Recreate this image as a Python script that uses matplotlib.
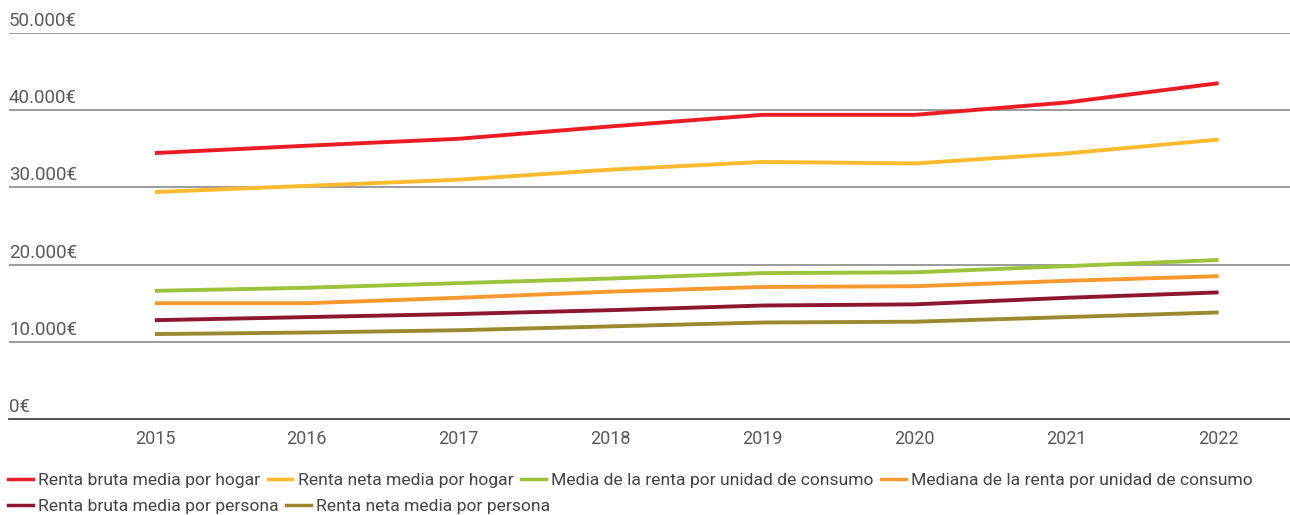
import matplotlib
matplotlib.use("Agg")
import matplotlib.pyplot as plt
from matplotlib import font_manager
from matplotlib.lines import Line2D

# pick a narrow font if there is one
names = {f.name for f in font_manager.fontManager.ttflist}
fam = "Liberation Sans Narrow" if "Liberation Sans Narrow" in names else "Roboto"
plt.rcParams["font.family"] = [fam, "DejaVu Sans"]

years = [2015, 2016, 2017, 2018, 2019, 2020, 2021, 2022]
bruta_hogar = [34450, 35400, 36300, 37900, 39400, 39400, 41000, 43500]
neta_hogar = [29400, 30200, 31000, 32300, 33300, 33100, 34400, 36200]
media_uc = [16600, 17000, 17600, 18200, 18900, 19000, 19800, 20600]
mediana_uc = [15000, 15000, 15700, 16500, 17100, 17200, 17900, 18500]
bruta_persona = [12800, 13200, 13600, 14100, 14700, 14850, 15700, 16400]
neta_persona = [11000, 11200, 11500, 12000, 12500, 12600, 13200, 13800]

series = [
    ("Renta bruta media por hogar", bruta_hogar, "#ED1C24"),
    ("Renta neta media por hogar", neta_hogar, "#FDBA2C"),
    ("Media de la renta por unidad de consumo", media_uc, "#9DC33B"),
    ("Mediana de la renta por unidad de consumo", mediana_uc, "#F7992F"),
    ("Renta bruta media por persona", bruta_persona, "#8E1730"),
    ("Renta neta media por persona", neta_persona, "#9B8930"),
]
yticks = [0, 10000, 20000, 30000, 40000, 50000]
ylabels = ["0€", "10.000€", "20.000€", "30.000€", "40.000€", "50.000€"]

fig = plt.figure(figsize=(12.9, 5.15), dpi=100)
ax = fig.add_axes([9 / 1290, 1 - 419 / 515, 1 - 9 / 1290, (419 - 33) / 515])

for name, vals, col in series:
    ax.plot(years, vals, color=col, lw=2.8, label=name, solid_capstyle="butt")

for v, lab in zip(yticks, ylabels):
    if v > 0:
        ax.axhline(v, color="#8a8a8a", lw=1.2, zorder=0)
    ax.text(0, v + 400, lab, transform=ax.get_yaxis_transform(), ha="left", va="bottom",
            fontsize=13.5, color="#5a5a5a")

ax.set_xlim(2014.04, 2022.47)
ax.set_ylim(0, 50000)
for s in ["top", "right", "left"]:
    ax.spines[s].set_visible(False)
ax.spines["bottom"].set_color("#333333")
ax.spines["bottom"].set_linewidth(1.2)
ax.set_yticks([])
ax.set_xticks(years)
ax.set_xticklabels([str(y) for y in years], fontsize=13, color="#5a5a5a")
ax.tick_params(axis="x", length=0, pad=8)

# legend in two rows, flowing like the original
handles = [Line2D([], [], color=c, lw=2.5) for _, _, c in series]
names_ = [n for n, _, _ in series]
kw = dict(frameon=False, fontsize=12.6, handlelength=1.4, handletextpad=0.3,
          columnspacing=0.45, labelcolor="#444444", borderaxespad=0, borderpad=0)
leg1 = fig.legend(handles[:4], names_[:4], loc="center left", ncol=4,
                  bbox_to_anchor=(8 / 1290, 1 - 480 / 515), **kw)
leg2 = fig.legend(handles[4:], names_[4:], loc="center left", ncol=2,
                  bbox_to_anchor=(8 / 1290, 1 - 506 / 515), **kw)

fig.savefig("out.png", dpi=100)
